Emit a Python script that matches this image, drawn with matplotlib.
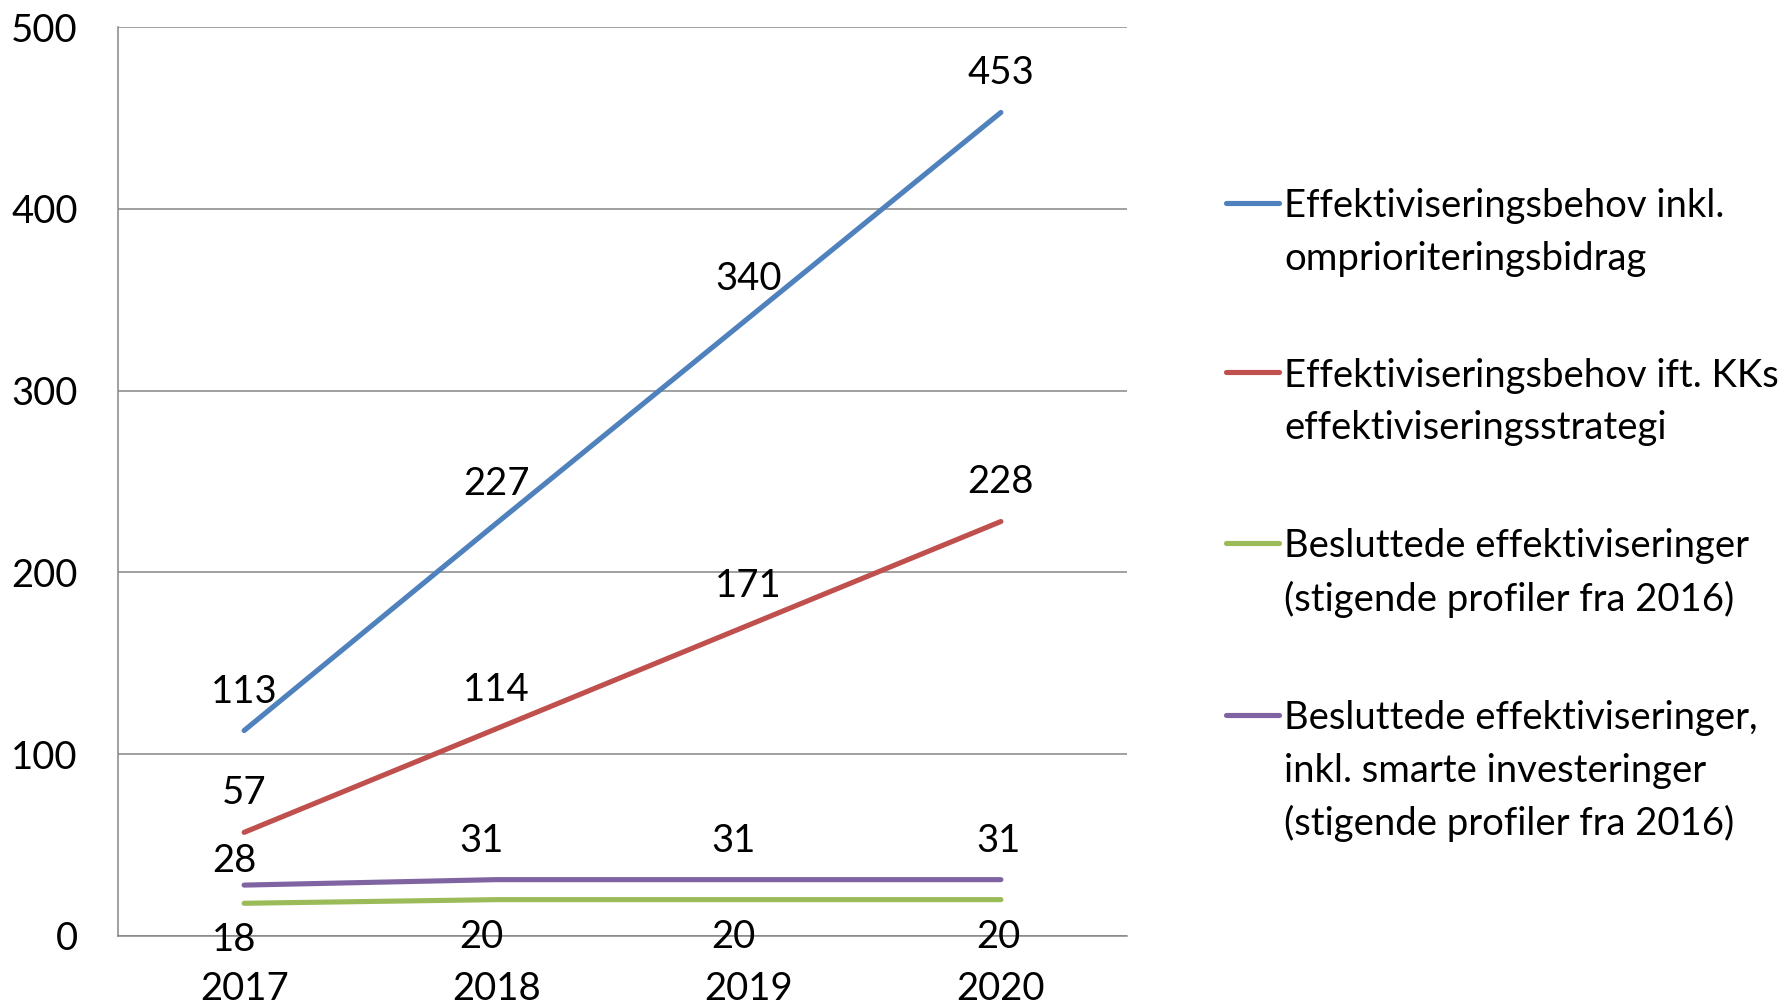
import matplotlib
matplotlib.use('Agg')
import matplotlib.pyplot as plt
from matplotlib.lines import Line2D

# data
years = ['2017', '2018', '2019', '2020']
behov_inkl = [113, 227, 340, 453]
behov_kk = [57, 114, 171, 228]
besluttede = [18, 20, 20, 20]
besluttede_smart = [28, 31, 31, 31]

names = ['Effektiviseringsbehov inkl.\nomprioriteringsbidrag',
         'Effektiviseringsbehov ift. KKs\neffektiviseringsstrategi',
         'Besluttede effektiviseringer\n(stigende profiler fra 2016)',
         'Besluttede effektiviseringer,\ninkl. smarte investeringer\n(stigende profiler fra 2016)']

plt.rcParams['font.family'] = ['Lato', 'DejaVu Sans']
fs = 27.5
W, H = 1785, 1008

fig = plt.figure(figsize=(W / 100, H / 100), dpi=100)
ax = fig.add_axes([118 / W, 72 / H, (1127 - 118) / W, (981 - 72) / H])

colors = ['#4F81BD', '#C0504D', '#9BBB59', '#8064A2']
series = [behov_inkl, behov_kk, besluttede, besluttede_smart]
x = list(range(len(years)))

# label offsets in pixels (dx, dy) per point
offsets = [
    [(0, 39)] * 4,
    [(0, 39)] * 4,
    [(-10, -37), (-15, -37), (-15, -37), (-2, -37)],
    [(-10, 24), (-15, 39), (-15, 39), (-2, 39)],
]

for vals, c, offs in zip(series, colors, offsets):
    ax.plot(x, vals, color=c, lw=3.7, solid_capstyle='round', zorder=3)
    for xi, v, (dx, dy) in zip(x, vals, offs):
        ax.annotate(str(v), (xi, v), xytext=(dx, dy), textcoords='offset pixels',
                    ha='center', va='center', fontsize=fs, color='black', zorder=4)

ax.set_xlim(-0.5, 3.5)
ax.set_ylim(0, 500)
ax.set_yticks([0, 100, 200, 300, 400, 500])
ax.set_xticks(x)
ax.set_xticklabels(years)
ax.tick_params(axis='both', length=0, labelsize=fs, colors='black')
ax.tick_params(axis='y', pad=29)
ax.tick_params(axis='x', pad=25)
ax.yaxis.grid(True, color='#868686', lw=1.1)
ax.set_axisbelow(True)
for s in ['top', 'right']:
    ax.spines[s].set_visible(False)
for s in ['left', 'bottom']:
    ax.spines[s].set_color('#868686')
    ax.spines[s].set_linewidth(1.1)

# legend drawn by hand so the handle sits on the first text line
legend_y = [203, 372, 543, 715]
line_gap = 52.6
for name, c, yp in zip(names, colors, legend_y):
    yf = 1 - yp / H
    fig.add_artist(Line2D([1226 / W, 1279 / W], [yf, yf], color=c, lw=3.7,
                         solid_capstyle='round', transform=fig.transFigure))
    for k, line in enumerate(name.split('\n')):
        fig.text(1284 / W, 1 - (yp + k * line_gap) / H, line, fontsize=fs,
                 ha='left', va='center_baseline', color='black')

fig.savefig('out.png', dpi=100)
